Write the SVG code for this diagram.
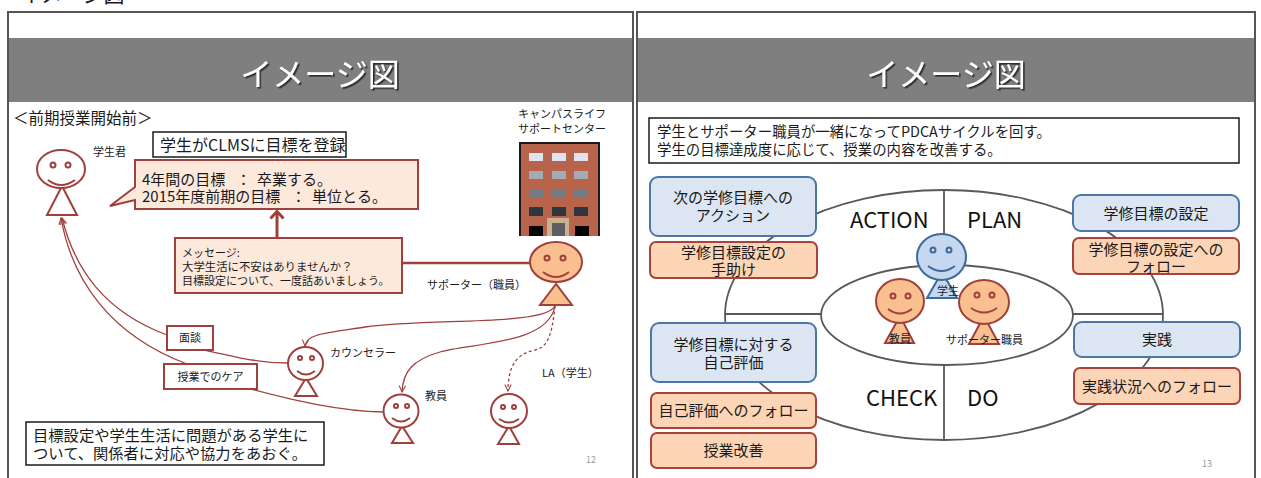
<svg xmlns="http://www.w3.org/2000/svg" width="1261" height="478" viewBox="0 0 1261 478">
  <style>
    text { font-family: "Noto Sans CJK JP", "Noto Sans CJK SC", sans-serif; fill: #1a1a1a; }
    .slide { fill: #ffffff; stroke: #555555; stroke-width: 2; }
    .band { fill: #7f7f7f; }
    .title { font-size: 32px; fill: #ffffff; text-anchor: middle; filter: url(#shadow); }
    .fw { fill: #ffffff; stroke: #a0403c; stroke-width: 2; }
    .fo { fill: #f9bf8f; stroke: #a0403c; stroke-width: 2; }
    .fb { fill: #c6d8f0; stroke: #3d6a99; stroke-width: 2; }
    .smile { fill: none; stroke-width: 2; }
    .red-smile { stroke: #a0403c; }
    .blue-smile { stroke: #3d6a99; }
    .redbox { fill: #fde9dc; stroke: #a0403c; stroke-width: 2; }
    .tag { fill: #ffffff; stroke: #a0403c; stroke-width: 2; }
    .plain { fill: #ffffff; stroke: #1a1a1a; stroke-width: 1.5; }
    .curve { fill: none; stroke: #a0403c; stroke-width: 1.3; }
    .ring { fill: none; stroke: #595959; stroke-width: 1.8; }
    .bluebox { fill: #dce6f2; stroke: #4a76a8; stroke-width: 2; }
    .orgbox { fill: #fbd5b5; stroke: #a8423c; stroke-width: 2; }
    .s11 { font-size: 11px; }
    .s15 { font-size: 15px; }
    .mid { text-anchor: middle; }
    .phase { font-size: 22px; fill: #111111; }
    .page { font-size: 9px; fill: #9a9a9a; }
  </style>
  <defs>
    <filter id="shadow" x="-10%" y="-20%" width="130%" height="150%">
      <feDropShadow dx="1.6" dy="1.6" stdDeviation="0.6" flood-color="#202020" flood-opacity="0.9"/>
    </filter>
    <marker id="vee" viewBox="0 0 10 10" refX="9" refY="5" markerWidth="8" markerHeight="8" markerUnits="userSpaceOnUse" orient="auto">
      <path d="M1,1 L9,5 L1,9" fill="none" stroke="#a0403c" stroke-width="1.3"/>
    </marker>
  </defs>

  <!-- caption above the slides (clipped by the top edge) -->
  <text x="20" y="2" style="font-size:21px">イメージ図</text>

  <!-- ===== left slide ===== -->
  <g id="slide12">
    <rect class="slide" x="8" y="12" width="625" height="480"/>
    <rect class="band" x="9" y="38" width="623" height="64"/>
    <text class="title" x="320" y="86">イメージ図</text>
    <text x="13" y="124" style="font-size:15.5px">＜前期授業開始前＞</text>
    <text class="page" x="586" y="463">12</text>
  </g>

  <!-- connectors on the left slide -->
  <g id="connectors-left">
    <path class="curve" d="M167,335 C105,312 75,270 62,218" marker-end="url(#vee)"/>
    <path class="curve" d="M187,364 C110,335 72,280 61,218" marker-end="url(#vee)"/>
    <path class="curve" d="M204,350 C240,358 260,363 288,363"/>
    <path class="curve" d="M247,388 C300,402 340,411 383,412"/>
    <path class="curve" d="M555,306 C545,326 430,318 365,327 C325,333 306,334 305,346" marker-end="url(#vee)"/>
    <path class="curve" d="M555,306 C548,345 470,343 440,352 C412,360 403,372 402,392" marker-end="url(#vee)"/>
    <path class="curve" d="M555,306 C552,335 548,347 535,350 C515,354 508,368 508,391" stroke-dasharray="3,2.5" marker-end="url(#vee)"/>
    <line x1="402" y1="263" x2="531" y2="263" stroke="#a0403c" stroke-width="2.5"/>
    <line x1="277" y1="238" x2="277" y2="212" stroke="#a0403c" stroke-width="3"/>
    <polyline points="270.5,218.5 277,211.5 283.5,218.5" fill="none" stroke="#a0403c" stroke-width="3"/>
  </g>

  <g id="clms-box">
    <rect class="plain" x="153" y="132" width="193" height="25"/>
    <text x="160" y="151" style="font-size:16px">学生がCLMSに目標を登録</text>
  </g>

  <g id="goal-bubble">
    <path class="redbox" d="M135,160 H418 V209 H135 V200 L110,206 L135,187 Z"/>
    <text x="142" y="185" class="s15">4年間の目標<tspan x="236">：</tspan><tspan x="257">卒業する。</tspan></text>
    <text x="142" y="202" class="s15">2015年度前期の目標<tspan x="291">：</tspan><tspan x="312">単位とる。</tspan></text>
  </g>

  <g id="message-box">
    <rect class="redbox" x="175" y="238" width="227" height="55"/>
    <text x="182" y="257" style="font-size:11px">メッセージ:</text>
    <text x="182" y="271" style="font-size:11.4px">大学生活に不安はありませんか？</text>
    <text x="182" y="285" style="font-size:11px">目標設定について、一度話あいましょう。</text>
  </g>

  <g id="student-kun">
    <polygon class="fw" points="62,186 47,215 77,215"/>
    <ellipse class="fw" cx="61" cy="169" rx="24" ry="19"/>
    <circle class="fw" cx="53" cy="165" r="2.5"/>
    <circle class="fw" cx="68" cy="165" r="2.5"/>
    <path class="smile red-smile" d="M48,180 Q61,190 75,180"/>
    <text class="s11" x="93" y="156">学生君</text>
  </g>

  <g id="support-center">
    <text class="s11" x="518" y="118">キャンパスライフ</text>
    <text class="s11" x="518" y="133">サポートセンター</text>
    <rect x="520" y="143" width="79" height="93" fill="#b8644c"/>
    <path d="M520,236 V143 H599 V236" fill="none" stroke="#1a1a1a" stroke-width="2"/>
    <g>
      <rect x="529" y="153" width="14" height="8" fill="#dfe2ef"/>
      <rect x="552" y="153" width="14" height="8" fill="#dfe2ef"/>
      <rect x="574" y="153" width="14" height="8" fill="#dfe2ef"/>
      <rect x="529" y="171" width="14" height="8" fill="#a4abb3"/>
      <rect x="552" y="171" width="14" height="8" fill="#a4abb3"/>
      <rect x="574" y="171" width="14" height="8" fill="#a4abb3"/>
      <rect x="529" y="189" width="14" height="8" fill="#737b83"/>
      <rect x="552" y="189" width="14" height="8" fill="#737b83"/>
      <rect x="574" y="189" width="14" height="8" fill="#737b83"/>
      <rect x="529" y="207" width="14" height="9" fill="#30363c"/>
      <rect x="552" y="207" width="14" height="9" fill="#30363c"/>
      <rect x="574" y="207" width="14" height="9" fill="#30363c"/>
      <rect x="529" y="226" width="14" height="10" fill="#050505"/>
      <rect x="575" y="226" width="14" height="10" fill="#050505"/>
      <rect x="547" y="218" width="22" height="18" fill="#c9b28f"/>
      <rect x="552" y="223" width="13" height="13" fill="#5e5e5e"/>
    </g>
  </g>

  <g id="supporter">
    <polygon class="fo" points="556,284 540,305 572,305"/>
    <ellipse class="fo" cx="556" cy="262" rx="26" ry="20"/>
    <circle class="fo" cx="547" cy="258" r="2.5"/>
    <circle class="fo" cx="563" cy="258" r="2.5"/>
    <path class="smile red-smile" d="M543,272 Q556,282 569,272"/>
    <text class="s11" x="427" y="289">サポーター（職員）</text>
  </g>

  <g id="counselor">
    <polygon class="fw" points="306,378 295,396 317,396"/>
    <ellipse class="fw" cx="305.5" cy="363.5" rx="17.5" ry="16.5"/>
    <circle class="fw" cx="300" cy="358" r="2"/>
    <circle class="fw" cx="312" cy="358" r="2"/>
    <path class="smile red-smile" d="M297,371 Q306,378 315,371"/>
    <text class="s11" x="330" y="357">カウンセラー</text>
  </g>

  <g id="teacher">
    <polygon class="fw" points="402,426 392,443 413,443"/>
    <ellipse class="fw" cx="401" cy="411" rx="17.5" ry="16.5"/>
    <circle class="fw" cx="396" cy="406" r="2"/>
    <circle class="fw" cx="407" cy="406" r="2"/>
    <path class="smile red-smile" d="M392,418 Q401,425 410,418"/>
    <text class="s11" x="425" y="400">教員</text>
  </g>

  <g id="la-student">
    <polygon class="fw" points="509,426 498,444 519,444"/>
    <ellipse class="fw" cx="509" cy="411" rx="18" ry="17"/>
    <circle class="fw" cx="503" cy="407" r="2"/>
    <circle class="fw" cx="514" cy="407" r="2"/>
    <path class="smile red-smile" d="M499,419 Q509,426 519,419"/>
    <text class="s11" x="542" y="377">LA（学生）</text>
  </g>

  <g id="tag-interview">
    <rect class="tag" x="167" y="326" width="46" height="24"/>
    <text class="s11 mid" x="190" y="342">面談</text>
  </g>
  <g id="tag-care">
    <rect class="tag" x="164" y="364" width="93" height="25"/>
    <text class="s11 mid" x="210.5" y="381">授業でのケア</text>
  </g>

  <g id="note-left">
    <rect class="plain" x="26" y="422" width="298" height="43"/>
    <text x="33" y="441" style="font-size:15.3px">目標設定や学生生活に問題がある学生に</text>
    <text x="33" y="459" style="font-size:15.3px">ついて、関係者に対応や協力をあおぐ。</text>
  </g>

  <!-- ===== right slide ===== -->
  <g id="slide13">
    <rect class="slide" x="637" y="12" width="618" height="480"/>
    <rect class="band" x="638" y="38" width="616" height="64"/>
    <text class="title" x="946" y="86">イメージ図</text>
    <text class="page" x="1202" y="467">13</text>
  </g>

  <g id="summary-box">
    <rect class="plain" x="649" y="118" width="590" height="45"/>
    <text x="657" y="137" style="font-size:14.4px">学生とサポーター職員が一緒になってPDCAサイクルを回す。</text>
    <text x="657" y="155" style="font-size:14.4px">学生の目標達成度に応じて、授業の内容を改善する。</text>
  </g>

  <!-- PDCA cycle rings and dividers -->
  <g id="connectors-right">
    <ellipse class="ring" cx="944" cy="315" rx="219" ry="125"/>
    <ellipse class="ring" cx="947" cy="315" rx="126" ry="50"/>
    <line class="ring" x1="725" y1="314" x2="821" y2="314"/>
    <line class="ring" x1="1073" y1="314" x2="1163" y2="314"/>
    <line class="ring" x1="944" y1="190" x2="944" y2="265"/>
    <line class="ring" x1="944" y1="365" x2="944" y2="440"/>
  </g>

  <g id="phase-labels">
    <text class="phase" x="850" y="228">ACTION</text>
    <text class="phase" x="967" y="228">PLAN</text>
    <text class="phase" x="866" y="406">CHECK</text>
    <text class="phase" x="967" y="406">DO</text>
  </g>

  <g id="cycle-student">
    <polygon class="fb" points="942,272 927,298 957,298"/>
    <ellipse class="fb" cx="941.5" cy="257" rx="24.5" ry="23"/>
    <circle class="fb" cx="933" cy="250" r="2.5"/>
    <circle class="fb" cx="949" cy="250" r="2.5"/>
    <path class="smile blue-smile" d="M928,266 Q941.5,276 955,266"/>
    <text class="s11" x="937" y="295">学生</text>
  </g>

  <g id="cycle-teacher">
    <polygon class="fo" points="900,316 885,343 914,343"/>
    <ellipse class="fo" cx="900" cy="301" rx="24" ry="22"/>
    <circle class="fo" cx="893" cy="296" r="2.5"/>
    <circle class="fo" cx="908" cy="296" r="2.5"/>
    <path class="smile red-smile" d="M888,309 Q900,318 912,309"/>
    <text class="s11" x="889" y="343">教員</text>
  </g>

  <g id="cycle-supporter">
    <polygon class="fo" points="984,316 969,344 999,344"/>
    <ellipse class="fo" cx="984" cy="302" rx="25" ry="22"/>
    <circle class="fo" cx="977" cy="295" r="2.5"/>
    <circle class="fo" cx="992" cy="295" r="2.5"/>
    <path class="smile red-smile" d="M971,308 Q984,317 997,308"/>
    <text class="s11" x="946" y="344">サポーター職員</text>
  </g>

  <g id="box-next-action">
    <rect class="bluebox" x="650" y="177" width="166" height="59" rx="8"/>
    <text class="s15 mid" x="733" y="203">次の学修目標への</text>
    <text class="s15 mid" x="733" y="221">アクション</text>
  </g>
  <g id="box-goal-help">
    <rect class="orgbox" x="650" y="242" width="167" height="36" rx="6"/>
    <text class="s15 mid" x="733.5" y="258">学修目標設定の</text>
    <text class="s15 mid" x="733.5" y="275">手助け</text>
  </g>
  <g id="box-self-eval">
    <rect class="bluebox" x="651" y="323" width="165" height="59" rx="8"/>
    <text class="s15 mid" x="733.5" y="350">学修目標に対する</text>
    <text class="s15 mid" x="733.5" y="368">自己評価</text>
  </g>
  <g id="box-self-eval-follow">
    <rect class="orgbox" x="651" y="393" width="165" height="35" rx="6"/>
    <text class="s15 mid" x="733.5" y="416">自己評価へのフォロー</text>
  </g>
  <g id="box-improve">
    <rect class="orgbox" x="651" y="433" width="165" height="35" rx="6"/>
    <text class="s15 mid" x="733.5" y="456">授業改善</text>
  </g>
  <g id="box-goal-set">
    <rect class="bluebox" x="1073" y="195" width="166" height="36" rx="8"/>
    <text class="s15 mid" x="1156" y="219">学修目標の設定</text>
  </g>
  <g id="box-goal-follow">
    <rect class="orgbox" x="1073" y="238" width="166" height="36" rx="6"/>
    <text class="s15 mid" x="1156" y="255">学修目標の設定への</text>
    <text class="s15 mid" x="1156" y="272">フォロー</text>
  </g>
  <g id="box-practice">
    <rect class="bluebox" x="1074" y="322" width="166" height="35" rx="8"/>
    <text class="s15 mid" x="1157" y="345">実践</text>
  </g>
  <g id="box-practice-follow">
    <rect class="orgbox" x="1074" y="368" width="166" height="36" rx="6"/>
    <text class="s15 mid" x="1157" y="392">実践状況へのフォロー</text>
  </g>
</svg>
